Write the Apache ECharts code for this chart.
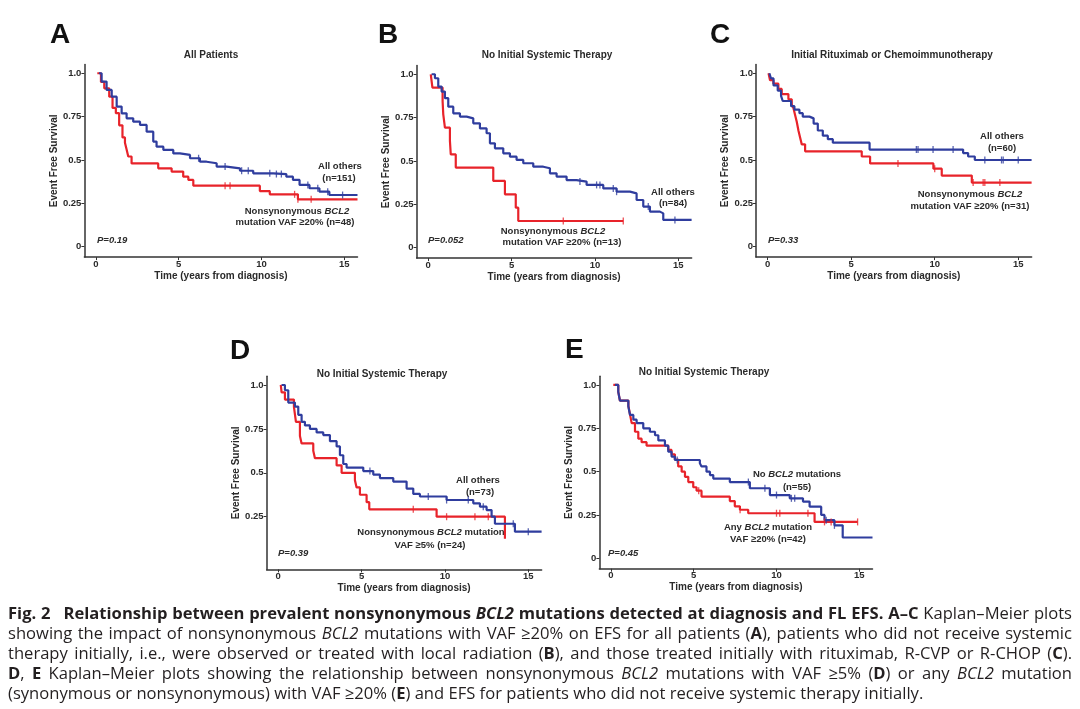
<!DOCTYPE html>
<html><head><meta charset="utf-8">
<script src="https://cdn.jsdelivr.net/npm/echarts@6/dist/echarts.min.js"></script>
<style>html,body{margin:0;padding:0;background:#fff}#c{width:1080px;height:709px}</style>
</head><body><div id="c"></div>
<script>
// ---------------- DATA ----------------
const xTicks = [0, 5, 10, 15];
const yTicks = [0, 0.25, 0.5, 0.75, 1.0];
const yTicksD = [0.25, 0.5, 0.75, 1.0];

// Kaplan–Meier curves: [time (years), event-free survival]
const aBlue = [[0.18,1.0],[0.34,0.952],[0.64,0.904],[0.95,0.865],[1.25,0.808],[1.55,0.769],[1.85,0.740],[2.25,0.721],[2.66,0.702],[3.06,0.663],[3.46,0.606],[3.66,0.577],[4.07,0.558],[4.67,0.538],[5.07,0.529],[5.68,0.510],[6.28,0.490],[6.68,0.481],[7.29,0.462],[7.89,0.452],[8.70,0.438],[9.5,0.423],[10.7,0.419],[11.5,0.404],[11.9,0.385],[12.3,0.356],[12.9,0.337],[13.5,0.317],[14.1,0.298],[15.8,0.298]];
const aRed = [[0.08,1.0],[0.3,0.95],[0.5,0.913],[0.8,0.865],[1.0,0.80],[1.2,0.77],[1.4,0.70],[1.6,0.63],[1.75,0.60],[1.85,0.56],[1.95,0.52],[2.15,0.48],[3.76,0.452],[4.57,0.433],[5.27,0.404],[5.58,0.385],[5.88,0.352],[9.9,0.321],[10.5,0.302],[12.2,0.273],[15.8,0.273]];
const bBlue = [[0.2,1.0],[0.4,0.977],[0.6,0.929],[0.8,0.9],[1.0,0.862],[1.2,0.813],[1.5,0.775],[1.9,0.756],[2.3,0.746],[2.7,0.717],[3.1,0.688],[3.5,0.66],[3.7,0.602],[4.0,0.573],[4.5,0.544],[4.9,0.525],[5.3,0.506],[5.7,0.487],[6.3,0.467],[6.9,0.458],[7.3,0.429],[7.7,0.41],[8.3,0.39],[8.9,0.381],[9.5,0.362],[10.5,0.342],[11.3,0.323],[12.1,0.313],[12.5,0.275],[12.9,0.237],[13.3,0.208],[13.9,0.198],[14.1,0.16],[15.8,0.16]];
const bRed = [[0.15,1.0],[0.25,0.923],[0.86,0.846],[0.9,0.769],[1.0,0.692],[1.3,0.615],[1.35,0.538],[1.65,0.462],[3.9,0.385],[4.6,0.308],[5.25,0.231],[5.4,0.154],[11.7,0.154]];
const cBlue = [[0.1,1.0],[0.2,0.97],[0.35,0.93],[0.6,0.90],[0.8,0.87],[0.9,0.84],[1.4,0.81],[1.6,0.79],[1.9,0.77],[2.1,0.75],[2.5,0.74],[2.75,0.71],[3.0,0.67],[3.3,0.64],[3.6,0.62],[3.9,0.60],[6.1,0.56],[11.7,0.54],[12.0,0.52],[12.4,0.50],[15.8,0.50]];
const cRed = [[0.05,1.0],[0.14,0.96],[0.34,0.94],[0.64,0.91],[0.84,0.88],[1.24,0.85],[1.44,0.82],[1.54,0.80],[1.64,0.76],[1.74,0.72],[1.84,0.67],[1.94,0.63],[2.04,0.59],[2.24,0.55],[5.63,0.52],[6.13,0.48],[9.92,0.45],[10.42,0.41],[12.22,0.37],[15.8,0.37]];
const dBlue = [[0.2,1.0],[0.4,0.97],[0.6,0.90],[1.0,0.877],[1.2,0.83],[1.4,0.79],[1.6,0.77],[1.9,0.75],[2.3,0.73],[2.7,0.715],[3.1,0.68],[3.5,0.65],[3.7,0.60],[3.9,0.55],[4.1,0.53],[5.1,0.51],[5.7,0.49],[6.1,0.47],[6.9,0.45],[7.7,0.41],[8.1,0.38],[8.5,0.365],[10.1,0.345],[11.7,0.326],[12.1,0.307],[12.5,0.288],[12.8,0.25],[13.0,0.21],[14.2,0.165],[15.8,0.165]];
const dRed = [[0.15,1.0],[0.2,0.958],[0.4,0.917],[0.94,0.875],[1.06,0.79],[1.3,0.71],[1.4,0.667],[2.1,0.625],[2.2,0.583],[3.5,0.542],[3.8,0.50],[4.6,0.458],[4.7,0.417],[4.9,0.375],[5.3,0.333],[5.46,0.292],[9.5,0.25],[13.6,0.125]];
const eBlue = [[0.24,1.0],[0.44,0.96],[0.54,0.91],[1.05,0.875],[1.15,0.827],[1.35,0.80],[1.55,0.78],[1.95,0.75],[2.35,0.73],[2.66,0.71],[2.86,0.68],[3.26,0.65],[3.46,0.615],[3.66,0.587],[3.86,0.567],[5.37,0.548],[5.47,0.53],[5.77,0.50],[5.98,0.48],[6.18,0.46],[7.18,0.44],[8.39,0.404],[9.6,0.365],[10.8,0.346],[11.6,0.327],[12.0,0.298],[12.7,0.25],[12.9,0.22],[13.5,0.19],[14.0,0.12],[15.8,0.12]];
const eRed = [[0.14,1.0],[0.44,0.96],[0.54,0.91],[1.05,0.88],[1.15,0.83],[1.25,0.78],[1.45,0.73],[1.65,0.69],[1.85,0.67],[2.15,0.65],[3.46,0.625],[3.66,0.60],[3.86,0.57],[4.06,0.53],[4.27,0.50],[4.47,0.47],[4.67,0.44],[4.97,0.41],[5.17,0.39],[5.47,0.356],[7.18,0.33],[7.48,0.30],[7.79,0.28],[8.29,0.26],[12.3,0.21],[14.9,0.21]];

// censoring times (years)
const aBlueCens = [6.2,7.8,8.8,9.2,10.5,10.9,11.2,12.8,13.4,14.0,14.9];
const aRedCens = [7.8,8.1,12.0,12.2,13.0];
const bBlueCens = [9.1,10.1,10.3,11.1,11.3,13.2,14.8];
const bRedCens = [8.1,11.7];
const cBlueCens = [8.9,9.0,9.9,11.1,13.0,14.0,14.1,15.0];
const cRedCens = [7.8,10.0,12.3,12.9,13.0,13.9];
const dBlueCens = [5.5,9.0,10.1,11.4,12.3,14.1,15.0];
const dRedCens = [8.1,10.1,11.8,12.6];
const eBlueCens = [4.0,8.3,9.3,10.0,10.9,11.1,13.0,13.5];
const eRedCens = [5.3,7.8,10.0,10.2,11.9,12.9,13.3,14.9];

// ---------------- LAYOUT / STYLE ----------------
const BLUE = '#2f3d9e', RED = '#e8232a', INK = '#2a2a2a';
const PF = "'Liberation Sans Narrow','Liberation Sans',Arial,sans-serif";
const CF = "'Open Sans','Noto Sans',sans-serif";

const panels = [
  {letter:'A', lx:50, ly:35, title:'All Patients', tx:211, ty:55,
   grid:{left:84.4, top:64.6, width:273.1, height:192.5}, yr:[-0.06,1.05], yt:yTicks,
   blue:aBlue, red:aRed, bc:aBlueCens, rc:aRedCens,
   notes:[['All others',340,166],['(n=151)',339,178],['Nonsynonymous {i|BCL2}',297,211],['mutation VAF ≥20% (n=48)',295,222]],
   p:['P=0.19',97,240]},
  {letter:'B', lx:378, ly:35, title:'No Initial Systemic Therapy', tx:547, ty:55,
   grid:{left:416.6, top:65.6, width:275.0, height:192.5}, yr:[-0.06,1.05], yt:yTicks,
   blue:bBlue, red:bRed, bc:bBlueCens, rc:bRedCens,
   notes:[['All others',673,192],['(n=84)',673,203],['Nonsynonymous {i|BCL2}',553,231],['mutation VAF ≥20% (n=13)',562,242]],
   p:['P=0.052',428,240]},
  {letter:'C', lx:710, ly:35, title:'Initial Rituximab or Chemoimmunotherapy', tx:892, ty:55,
   grid:{left:756.0, top:64.6, width:275.6, height:192.5}, yr:[-0.06,1.05], yt:yTicks,
   blue:cBlue, red:cRed, bc:cBlueCens, rc:cRedCens,
   notes:[['All others',1002,136],['(n=60)',1002,148],['Nonsynonymous {i|BCL2}',970,194],['mutation VAF ≥20% (n=31)',970,206]],
   p:['P=0.33',768,240]},
  {letter:'D', lx:230, ly:351, title:'No Initial Systemic Therapy', tx:382, ty:374,
   grid:{left:266.6, top:376.2, width:275.0, height:193.2}, yr:[-0.05,1.05], yt:yTicksD,
   blue:dBlue, red:dRed, bc:dBlueCens, rc:dRedCens,
   notes:[['All others',478,480],['(n=73)',480,492],['Nonsynonymous {i|BCL2} mutation',431,532],['VAF ≥5% (n=24)',430,545]],
   p:['P=0.39',278,553]},
  {letter:'E', lx:565, ly:350, title:'No Initial Systemic Therapy', tx:704, ty:372,
   grid:{left:599.4, top:376.3, width:273.1, height:192.4}, yr:[-0.06,1.05], yt:yTicks,
   blue:eBlue, red:eRed, bc:eBlueCens, rc:eRedCens,
   notes:[['No {i|BCL2} mutations',797,474],['(n=55)',797,487],['Any {i|BCL2} mutation',768,527],['VAF ≥20% (n=42)',768,539]],
   p:['P=0.45',608,553]}
];

function stepAt(curve, t){
  let v = curve[0][1];
  for (const [ti, si] of curve){ if (ti <= t) v = si; else break; }
  return v;
}

const grids = [], xAxes = [], yAxes = [], series = [], graphics = [];
function txt(x, y, text, o){
  o = o || {};
  const fs = o.fontSize || 9.5;
  const st = Object.assign({
    text: text, x: 0, y: 0, fill: INK, fontFamily: PF, fontSize: fs, fontWeight: 'bold',
    align: o.align || 'center', textAlign: o.align || 'center',
    verticalAlign: 'middle', textVerticalAlign: 'middle',
    rich: {i: {fontStyle: 'italic', fontFamily: PF, fontSize: fs, fontWeight: 'bold', fill: INK}}
  }, o.style || {});
  graphics.push({type:'text', x:x, y:y, silent:true, style: st});
}

panels.forEach((p, i) => {
  grids.push(Object.assign({containLabel:false}, p.grid));
  xAxes.push({
    type:'value', gridIndex:i, min:-0.7, max:15.8,
    name:'Time (years from diagnosis)', nameLocation:'middle', nameGap:14,
    nameTextStyle:{fontFamily:PF, fontSize:10, fontWeight:'bold', color:INK},
    axisLine:{show:true, onZero:false, lineStyle:{color:'#333', width:1.5}},
    axisTick:{show:true, customValues:xTicks, length:3, lineStyle:{color:'#333', width:1}},
    axisLabel:{customValues:xTicks, margin:2, fontFamily:PF, fontSize:9.5, fontWeight:'bold', color:INK,
      formatter: v => String(v)},
    splitLine:{show:false}
  });
  yAxes.push({
    type:'value', gridIndex:i, min:p.yr[0], max:p.yr[1],
    name:'Event Free Survival', nameLocation:'middle', nameGap:25, nameRotate:90,
    nameTextStyle:{fontFamily:PF, fontSize:10, fontWeight:'bold', color:INK},
    axisLine:{show:true, onZero:false, lineStyle:{color:'#333', width:1.5}},
    axisTick:{show:true, customValues:p.yt, length:3, lineStyle:{color:'#333', width:1}},
    axisLabel:{customValues:p.yt, margin:3, fontFamily:PF, fontSize:9.5, fontWeight:'bold', color:INK,
      formatter: v => (v === 1 ? '1.0' : String(v))},
    splitLine:{show:false}
  });
  [[p.red, p.rc, RED], [p.blue, p.bc, BLUE]].forEach(([curve, cens, col]) => {
    series.push({type:'line', xAxisIndex:i, yAxisIndex:i, data:curve, step:'end',
      showSymbol:false, symbol:'none', lineStyle:{color:col, width:2.2}, silent:true, z:3});
    series.push({type:'scatter', xAxisIndex:i, yAxisIndex:i,
      data: cens.map(t => [t, stepAt(curve, t)]),
      symbol:'rect', symbolSize:[1.3, 7], itemStyle:{color:col}, silent:true, z:4});
  });
  // panel letter
  txt(p.lx, p.ly, p.letter, {align:'left', style:{fontFamily:"'Liberation Sans',Arial,sans-serif", fontSize:28, fontWeight:'bold', fill:'#111'}});
  txt(p.tx, p.ty, p.title, {fontSize:10});
  p.notes.forEach(n => txt(n[1], n[2], n[0]));
  txt(p.p[1], p.p[2], '{i|' + p.p[0] + '}', {align:'left'});
});

// ---------------- CAPTION (justified) ----------------
const capLines = [
  [['b','Fig. 2'],['gap',''],['b','Relationship between prevalent nonsynonymous '],['bi','BCL2'],['b',' mutations detected at diagnosis and FL EFS. A–C'],['n',' Kaplan–Meier plots']],
  [['n','showing the impact of nonsynonymous '],['i','BCL2'],['n',' mutations with VAF ≥20% on EFS for all patients ('],['b','A'],['n','), patients who did not receive systemic']],
  [['n','therapy initially, i.e., were observed or treated with local radiation ('],['b','B'],['n','), and those treated initially with rituximab, R-CVP or R-CHOP ('],['b','C'],['n',').']],
  [['b','D'],['n',', '],['b','E'],['n',' Kaplan–Meier plots showing the relationship between nonsynonymous '],['i','BCL2'],['n',' mutations with VAF ≥5% ('],['b','D'],['n',') or any '],['i','BCL2'],['n',' mutation']],
  [['n','(synonymous or nonsynonymous) with VAF ≥20% ('],['b','E'],['n',') and EFS for patients who did not receive systemic therapy initially.']]
];
const capX0 = 8, capX1 = 1072, capY0 = 614.5, capDY = 20, lastLineEnd = 924;

const mctx = document.createElement('canvas').getContext('2d');
function fstr(st, size){
  return (st.indexOf('i') >= 0 ? 'italic ' : '') + (st.indexOf('b') >= 0 ? 'bold ' : '') + size + 'px ' + CF;
}
function mw(st, s, size){ mctx.font = fstr(st, size); return mctx.measureText(s).width; }
function words(segs){
  const out = []; let cur = null; let extra = false;
  segs.forEach(([st, t]) => {
    if (st === 'gap'){ if (cur){ out.push(cur); cur = null; } extra = true; return; }
    t.split(' ').forEach((part, k) => {
      if (k > 0 && cur){ out.push(cur); cur = null; }
      if (part.length){ if (!cur){ cur = {pieces:[], extra:extra}; extra = false; } cur.pieces.push([st, part]); }
    });
  });
  if (cur) out.push(cur);
  return out;
}
function measureLine(ws, size){
  let w = 0;
  ws.forEach(wd => { wd.w = wd.pieces.reduce((a, [st, s]) => a + mw(st, s, size), 0); w += wd.w + (wd.extra ? size*0.5 : 0); });
  return w;
}
const capWords = capLines.map(words);
let size = 15;
{
  const last = capWords[capWords.length - 1];
  const w = measureLine(last, size) + (last.length - 1) * mw('n', ' ', size);
  size = size * (lastLineEnd - capX0) / w;
  for (let guard = 0; guard < 40; guard++){
    let ok = true;
    capWords.slice(0, -1).forEach(ws => {
      const lw = measureLine(ws, size) + (ws.length - 1) * size * 0.2;
      if (lw > capX1 - capX0) ok = false;
    });
    if (ok) break;
    size -= 0.1;
  }
}
capWords.forEach((ws, li) => {
  const total = measureLine(ws, size);
  const justify = li < capWords.length - 1;
  const gap = justify ? (capX1 - capX0 - total) / (ws.length - 1) : mw('n', ' ', size);
  let x = capX0;
  const y = capY0 + li * capDY;
  ws.forEach((wd, k) => {
    if (wd.extra) x += size * 0.5;
    wd.pieces.forEach(([st, s]) => {
      graphics.push({type:'text', x:x, y:y, silent:true, style:{
        text:s, x:0, y:0, fill:'#231f20', fontFamily:CF, fontSize:size,
        fontWeight: st.indexOf('b') >= 0 ? 'bold' : 'normal',
        fontStyle: st.indexOf('i') >= 0 ? 'italic' : 'normal',
        align:'left', textAlign:'left', verticalAlign:'middle', textVerticalAlign:'middle'}});
      x += mw(st, s, size);
    });
    x += gap;
  });
});

const chart = echarts.init(document.getElementById('c'), null, {renderer:'canvas', width:1080, height:709});
chart.setOption({
  animation:false,
  backgroundColor:'#ffffff',
  grid:grids, xAxis:xAxes, yAxis:yAxes, series:series, graphic:graphics
});
</script>
</body></html>
